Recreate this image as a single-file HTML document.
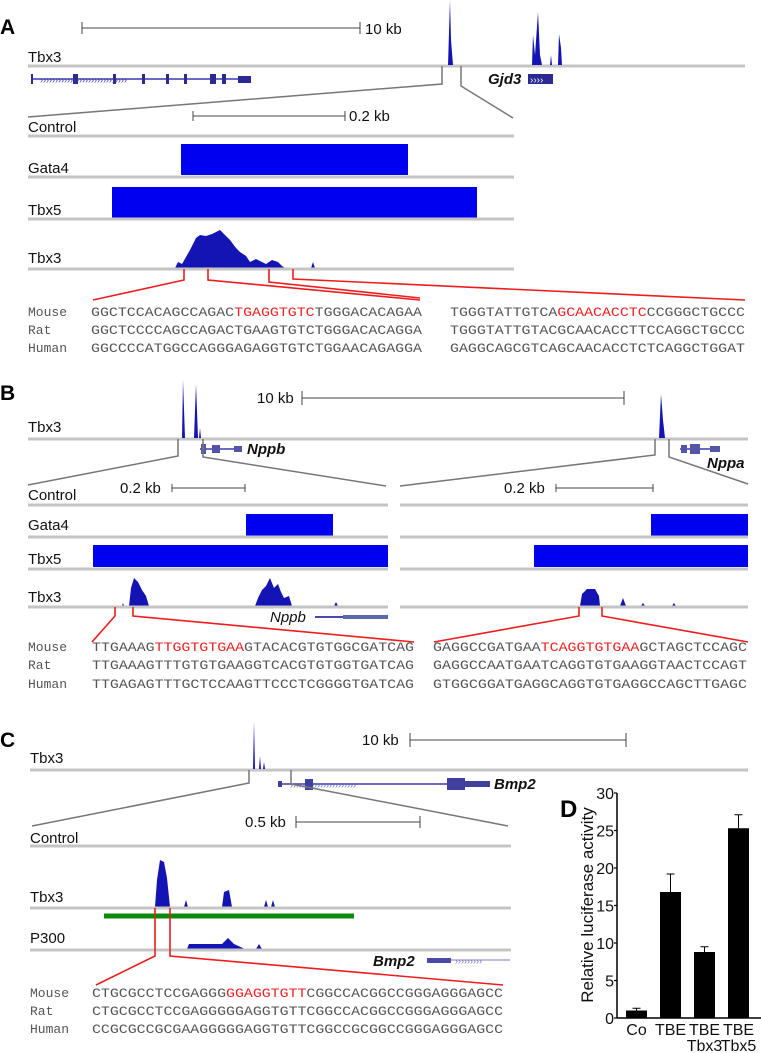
<!DOCTYPE html>
<html><head><meta charset="utf-8"><style>
body{margin:0;background:#fff}
svg{display:block}
.lab{font-family:"Liberation Sans",sans-serif;font-size:15px;fill:#111}
.pl{font-family:"Liberation Sans",sans-serif;font-size:21px;font-weight:bold;fill:#000}
.gn{font-family:"Liberation Sans",sans-serif;font-size:15px;font-weight:bold;font-style:italic;fill:#111}
.sq{font-family:"Liberation Mono",monospace;font-size:13px;fill:#555}
.trk{stroke:#c4c4c4;stroke-width:3}
.zm{stroke:#777;stroke-width:1.5;fill:none}
.rd{stroke:#ee1c1c;stroke-width:1.6;fill:none}
.sb{stroke:#444;stroke-width:1}
.pk{fill:#1414b4}
.bx{fill:#0000f0}
.ge{stroke:#3a3ab0;stroke-width:1.5}
.gx{fill:#2a2a90}
.red{fill:#ee2222}
</style></head><body>
<svg width="761" height="1053" viewBox="0 0 761 1053" xmlns="http://www.w3.org/2000/svg">
<!-- PANEL A -->
<g>
<text class="pl" x="0" y="34">A</text>
<g><line class="sb" x1="82" y1="28" x2="360" y2="28"/><line class="sb" x1="82" y1="22" x2="82" y2="34"/><line class="sb" x1="360" y1="22" x2="360" y2="34"/><text class="lab" x="365" y="34">10 kb</text></g>
<text class="lab" x="28" y="62">Tbx3</text>
<line class="trk" x1="28" y1="66" x2="745" y2="66"/>
<path class="pk" d="M448,65 L450,0 L451,40 L453,65Z M532,65 L533,35 L535,55 L538,12 L540,55 L542,65Z M550,65 L551,55 L552,65Z M558,65 L559,34 L561,48 L562,65Z"/>
<g><line class="ge" x1="31" y1="79" x2="240" y2="79"/>
<rect class="gx" x="31" y="74" width="2" height="10"/><rect class="gx" x="73" y="74" width="5" height="10"/><rect class="gx" x="113" y="74" width="3" height="10"/><rect class="gx" x="142" y="74" width="3" height="10"/><rect class="gx" x="166" y="74" width="3" height="10"/><rect class="gx" x="184" y="74" width="3" height="10"/><rect class="gx" x="210" y="74" width="6" height="10"/><rect class="gx" x="222" y="74" width="4" height="10"/><rect class="gx" x="238" y="76" width="13" height="7"/>
<text x="40" y="83" font-size="9" fill="#3a3ab0" font-family="Liberation Sans">›››››››››››››››››››››››››››››</text></g>
<text class="gn" x="488" y="84">Gjd3</text>
<rect x="528" y="74" width="25" height="10" fill="#2a2a90"/>
<text x="530" y="83" font-size="10" fill="#ffffff" font-family="Liberation Sans">››››</text>
<polyline class="zm" points="442,66 442,84 28,117"/><polyline class="zm" points="461,66 461,86 513,118"/>
<g><line class="sb" x1="193" y1="116" x2="345" y2="116"/><line class="sb" x1="193" y1="111" x2="193" y2="121"/><line class="sb" x1="345" y1="111" x2="345" y2="121"/><text class="lab" x="349" y="121">0.2 kb</text></g>
<text class="lab" x="28" y="132">Control</text><line class="trk" x1="28" y1="136" x2="514" y2="136"/>
<rect class="bx" x="181" y="144" width="227" height="31"/>
<text class="lab" x="28" y="173">Gata4</text><line class="trk" x1="28" y1="177" x2="514" y2="177"/>
<rect class="bx" x="112" y="187" width="365" height="31"/>
<text class="lab" x="28" y="215">Tbx5</text><line class="trk" x1="28" y1="219" x2="514" y2="219"/>
<path class="pk" d="M175,268 L178,262 L182,264 L190,250 L196,238 L200,235 L206,236 L212,234 L220,230 L224,234 L230,240 L236,248 L240,252 L246,256 L250,262 L256,259 L262,262 L266,264 L272,260 L278,262 L282,266 L285,268Z M311,268 L313,262 L315,268Z"/>
<text class="lab" x="28" y="263">Tbx3</text><line class="trk" x1="28" y1="269" x2="514" y2="269"/>
<g><polyline class="rd" points="184,269 184,280 93,300"/><polyline class="rd" points="208,269 208,280 420,300"/><polyline class="rd" points="269,269 269,282 420,298"/><polyline class="rd" points="293,269 293,279 745,300"/></g>
<g>
<text class="sq" x="28" y="316">Mouse</text><text class="sq" x="91" y="316" textLength="331" lengthAdjust="spacingAndGlyphs">GGCTCCACAGCCAGAC<tspan class="red">TGAGGTGTC</tspan>TGGGACACAGAA</text><text class="sq" x="450" y="316" textLength="295" lengthAdjust="spacingAndGlyphs">TGGGTATTGTCA<tspan class="red">GCAACACCTC</tspan>CCGGGCTGCCC</text>
<text class="sq" x="28" y="334">Rat</text><text class="sq" x="91" y="334" textLength="331" lengthAdjust="spacingAndGlyphs">GGCTCCCCAGCCAGACTGAAGTGTCTGGGACACAGGA</text><text class="sq" x="450" y="334" textLength="295" lengthAdjust="spacingAndGlyphs">TGGGTATTGTACGCAACACCTTCCAGGCTGCCC</text>
<text class="sq" x="28" y="352">Human</text><text class="sq" x="91" y="352" textLength="331" lengthAdjust="spacingAndGlyphs">GGCCCCATGGCCAGGGAGAGGTGTCTGGAACAGAGGA</text><text class="sq" x="450" y="352" textLength="295" lengthAdjust="spacingAndGlyphs">GAGGCAGCGTCAGCAACACCTCTCAGGCTGGAT</text>
</g></g>

<!-- PANEL B -->
<g>
<text class="pl" x="0" y="400">B</text>
<g><text class="lab" x="257" y="403">10 kb</text><line class="sb" x1="302" y1="398" x2="624" y2="398"/><line class="sb" x1="302" y1="391" x2="302" y2="405"/><line class="sb" x1="624" y1="391" x2="624" y2="405"/></g>
<text class="lab" x="28" y="432">Tbx3</text><line class="trk" x1="28" y1="439" x2="748" y2="439"/>
<path class="pk" d="M182,438 L183,380 L185,438Z M194,438 L196,384 L198,438Z M199,438 L200,428 L201,438Z M659,438 L661,394 L663,420 L665,438Z"/>
<g><line class="ge" x1="200" y1="449" x2="240" y2="449"/><rect x="201" y="444" width="5" height="10" fill="#5555a8"/><rect x="212" y="445" width="8" height="8" fill="#5555a8"/><rect x="234" y="446" width="8" height="6" fill="#5555a8"/></g>
<text class="gn" x="247" y="454">Nppb</text>
<g><line class="ge" x1="680" y1="449" x2="720" y2="449"/><rect x="681" y="445" width="6" height="8" fill="#5555a8"/><rect x="690" y="444" width="10" height="10" fill="#5555a8"/><rect x="710" y="446" width="10" height="6" fill="#5555a8"/></g>
<text class="gn" x="707" y="468">Nppa</text>
<polyline class="zm" points="178,439 178,456 28,485"/><polyline class="zm" points="203,439 203,457 386,486"/>
<polyline class="zm" points="655,439 655,455 400,486"/><polyline class="zm" points="669,439 669,457 748,484"/>
<g><text class="lab" x="120" y="493">0.2 kb</text><line class="sb" x1="172" y1="488" x2="245" y2="488"/><line class="sb" x1="172" y1="484" x2="172" y2="492"/><line class="sb" x1="245" y1="484" x2="245" y2="492"/></g>
<g><text class="lab" x="504" y="493">0.2 kb</text><line class="sb" x1="556" y1="488" x2="653" y2="488"/><line class="sb" x1="556" y1="484" x2="556" y2="492"/><line class="sb" x1="653" y1="484" x2="653" y2="492"/></g>
<text class="lab" x="28" y="500">Control</text><line class="trk" x1="28" y1="505" x2="388" y2="505"/><line class="trk" x1="400" y1="505" x2="748" y2="505"/>
<rect class="bx" x="246" y="514" width="87" height="22"/><rect class="bx" x="651" y="514" width="97" height="22"/>
<text class="lab" x="28" y="530">Gata4</text><line class="trk" x1="28" y1="537" x2="388" y2="537"/><line class="trk" x1="400" y1="537" x2="748" y2="537"/>
<rect class="bx" x="93" y="545" width="295" height="22"/><rect class="bx" x="534" y="545" width="214" height="22"/>
<text class="lab" x="28" y="564">Tbx5</text><line class="trk" x1="28" y1="569" x2="388" y2="569"/><line class="trk" x1="400" y1="569" x2="748" y2="569"/>
<path class="pk" d="M122,606 L123,603 L124,606Z M129,606 L131,588 L134,578 L138,582 L142,590 L146,596 L149,606Z M255,606 L258,598 L262,590 L266,586 L270,578 L274,588 L278,584 L281,592 L284,598 L289,596 L292,606Z M334,606 L336,602 L338,606Z M580,606 L582,594 L587,589 L595,589 L599,596 L600,606Z M620,606 L623,598 L626,606Z M641,606 L643,603 L645,606Z M672,606 L674,603 L676,606Z"/>
<text class="lab" x="28" y="602">Tbx3</text><line class="trk" x1="28" y1="607" x2="388" y2="607"/><line class="trk" x1="400" y1="607" x2="748" y2="607"/>
<text class="gn" x="270" y="622" style="font-weight:normal">Nppb</text><line x1="315" y1="617" x2="343" y2="617" stroke="#4a4aa8" stroke-width="2"/><rect x="343" y="615" width="45" height="4" fill="#5a6aa8"/>
<polyline class="rd" points="115,607 115,616 92,642"/><polyline class="rd" points="133,607 133,616 414,642"/>
<polyline class="rd" points="579,607 579,616 434,642"/><polyline class="rd" points="602,607 602,616 748,642"/>
<g>
<text class="sq" x="28" y="651">Mouse</text><text class="sq" x="92" y="651" textLength="322" lengthAdjust="spacingAndGlyphs">TTGAAAG<tspan class="red">TTGGTGTGAA</tspan>GTACACGTGTGGCGATCAG</text><text class="sq" x="433" y="651" textLength="314" lengthAdjust="spacingAndGlyphs">GAGGCCGATGAA<tspan class="red">TCAGGTGTGAA</tspan>GCTAGCTCCAGC</text>
<text class="sq" x="28" y="669">Rat</text><text class="sq" x="92" y="669" textLength="322" lengthAdjust="spacingAndGlyphs">TTGAAAGTTTGTGTGAAGGTCACGTGTGGTGATCAG</text><text class="sq" x="433" y="669" textLength="314" lengthAdjust="spacingAndGlyphs">GAGGCCAATGAATCAGGTGTGAAGGTAACTCCAGT</text>
<text class="sq" x="28" y="688">Human</text><text class="sq" x="92" y="688" textLength="322" lengthAdjust="spacingAndGlyphs">TTGAGAGTTTGCTCCAAGTTCCCTCGGGGTGATCAG</text><text class="sq" x="433" y="688" textLength="314" lengthAdjust="spacingAndGlyphs">GTGGCGGATGAGGCAGGTGTGAGGCCAGCTTGAGC</text>
</g></g>

<!-- PANEL C -->
<g>
<text class="pl" x="0" y="747">C</text>
<g><text class="lab" x="362" y="745">10 kb</text><line class="sb" x1="410" y1="740" x2="626" y2="740"/><line class="sb" x1="410" y1="733" x2="410" y2="747"/><line class="sb" x1="626" y1="733" x2="626" y2="747"/></g>
<text class="lab" x="30" y="763">Tbx3</text><line class="trk" x1="30" y1="770" x2="748" y2="770"/>
<path class="pk" d="M253,769 L254,721 L255,769Z M259,769 L260,756 L261,769Z M263,769 L264,762 L265,769Z"/>
<g><line class="ge" x1="280" y1="784" x2="450" y2="784" stroke-width="1"/><text x="290" y="788" font-size="9" fill="#6a6ac0" font-family="Liberation Sans">››››››››››››››››››››››</text><rect x="278" y="781" width="4" height="6" fill="#4040a0"/><rect x="305" y="779" width="8" height="11" fill="#4040a0"/><rect x="447" y="778" width="18" height="12" fill="#4040a0"/><rect x="465" y="781" width="25" height="6" fill="#4040a0"/></g>
<text class="gn" x="494" y="789">Bmp2</text>
<polyline class="zm" points="249,770 249,783 32,826"/><polyline class="zm" points="291,770 291,784 508,826"/>
<g><text class="lab" x="245" y="827">0.5 kb</text><line class="sb" x1="296" y1="822" x2="420" y2="822"/><line class="sb" x1="296" y1="816" x2="296" y2="828"/><line class="sb" x1="420" y1="816" x2="420" y2="828"/></g>
<text class="lab" x="30" y="843">Control</text><line class="trk" x1="30" y1="846" x2="511" y2="846"/>
<path class="pk" d="M155,907 L157,880 L160,860 L164,862 L167,878 L170,907Z M184,907 L186,900 L188,907Z M222,907 L224,892 L229,890 L232,907Z M264,907 L266,900 L268,907Z M271,907 L273,900 L275,907Z"/>
<text class="lab" x="30" y="902">Tbx3</text><line class="trk" x1="30" y1="908" x2="511" y2="908"/>
<line x1="104" y1="916" x2="354" y2="916" stroke="#0a8a0a" stroke-width="5"/>
<path class="pk" d="M187,949 L189,944 L222,944 L228,938 L234,944 L245,949Z M256,949 L259,944 L262,949Z"/>
<text class="lab" x="30" y="943">P300</text><line class="trk" x1="30" y1="950" x2="511" y2="950"/>
<text class="gn" x="373" y="966">Bmp2</text><rect x="427" y="958" width="24" height="5" fill="#4a4aa8"/><line x1="451" y1="960" x2="510" y2="960" stroke="#7a7ac8" stroke-width="1"/><text x="455" y="964" font-size="9" fill="#7a7ac8" font-family="Liberation Sans">›››››››››</text>
<polyline class="rd" points="155,908 155,956 96,985"/><polyline class="rd" points="170,908 170,956 503,985"/>
<g>
<text class="sq" x="30" y="997">Mouse</text><text class="sq" x="92" y="997" textLength="411" lengthAdjust="spacingAndGlyphs">CTGCGCCTCCGAGGG<tspan class="red">GGAGGTGTT</tspan>CGGCCACGGCCGGGAGGGAGCC</text>
<text class="sq" x="30" y="1015">Rat</text><text class="sq" x="92" y="1015" textLength="411" lengthAdjust="spacingAndGlyphs">CTGCGCCTCCGAGGGGGAGGTGTTCGGCCACGGCCGGGAGGGAGCC</text>
<text class="sq" x="30" y="1033">Human</text><text class="sq" x="92" y="1033" textLength="411" lengthAdjust="spacingAndGlyphs">CCGCGCCGCGAAGGGGGAGGTGTTCGGCCGCGGCCGGGAGGGAGCC</text>
</g></g>

<!-- PANEL D -->
<g id="chartD">
<text class="pl" x="560" y="817" style="font-size:24px">D</text>
<text class="lab" transform="translate(593,905) rotate(-90)" text-anchor="middle" style="font-size:17px">Relative luciferase activity</text>
</g>
</svg>
<script>
const categories = ["Co", "TBE", "TBE", "TBE"];
const subLabels = ["", "", "Tbx3", "Tbx5"];
const values = [1.0, 16.8, 8.8, 25.3];
const errors = [0.3, 2.4, 0.7, 1.8];
const yTicks = [0, 5, 10, 15, 20, 25, 30];
(function(){
  const NS = "http://www.w3.org/2000/svg";
  const g = document.getElementById("chartD");
  const x0 = 617, x1 = 761, yTop = 793, yBot = 1018, yMax = 30;
  const y = v => yBot - (v / yMax) * (yBot - yTop);
  const bx = i => 626 + i * 34;
  const bw = 21;
  function mk(tag, attrs){ const e = document.createElementNS(NS, tag); for (const k in attrs) e.setAttribute(k, attrs[k]); g.appendChild(e); return e; }
  const ax = mk("line", {x1:x0, y1:yTop, x2:x0, y2:yBot, stroke:"#000", "stroke-width":1.5});
  
  
  const xa = mk("line", {x1:x0, y1:yBot, x2:x1, y2:yBot, stroke:"#000", "stroke-width":1.5});
  
  
  yTicks.forEach(t => {
    mk("line", {x1:x0-3, y1:y(t), x2:x0, y2:y(t), stroke:"#000", "stroke-width":1.2});
    const tl = mk("text", {x:x0-3, y:y(t)+6, "text-anchor":"end", "class":"lab", style:"font-size:16px"});
    tl.textContent = t;
    
    
  });
  values.forEach((v, i) => {
    const cx = bx(i) + bw/2;
    const eb = mk("line", {x1:cx, y1:y(v), x2:cx, y2:y(v+errors[i]), stroke:"#000", "stroke-width":1});
    
    
    mk("line", {x1:cx-4, y1:y(v+errors[i]), x2:cx+4, y2:y(v+errors[i]), stroke:"#000", "stroke-width":1});
    const r = mk("rect", {x:bx(i), y:y(v), width:bw, height:yBot - y(v), fill:"#000"});
    
    
    const t = mk("text", {x:cx, y:1035, "text-anchor":"middle", "class":"lab", style:"font-size:16px"});
    t.textContent = categories[i];
    
    
    if (subLabels[i]) {
      const s = mk("text", {x:cx, y:1051, "text-anchor":"middle", "class":"lab", style:"font-size:16px"});
      s.textContent = subLabels[i];
      
      
    }
  });
})();
</script>
</body></html>
